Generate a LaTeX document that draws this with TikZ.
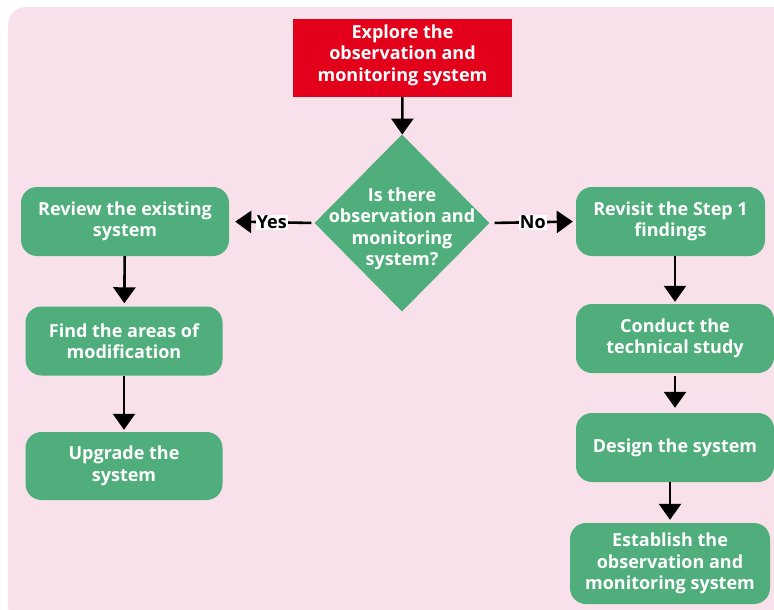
\documentclass[tikz,border=0pt]{standalone}
\usepackage{fontspec}
\setmainfont{Open Sans}
\usepackage{xcolor}
\usepackage{tikz}
\usetikzlibrary{
    calc,
    arrows.meta,
    shapes.geometric,
    positioning
}
\definecolor{bgpink}{HTML}{F8E1EB}
\definecolor{stepgreen}{HTML}{4FAE7B}
\definecolor{startred}{HTML}{E2001A}
\tikzset{
    boxtext/.style={text=white, font=\bfseries\fontsize{18}{21.5}\selectfont, align=center},
    stepbox/.style={boxtext, fill=stepgreen, rounded corners=16pt, inner sep=0pt},
    flow/.style={line width=2.6pt, -{Triangle[length=16pt,width=22pt]}},
    answer/.style={fill=white, text=black, inner sep=1pt, font=\bfseries\fontsize{18}{20}\selectfont}
}

\begin{document}
\begin{tikzpicture}[x=1pt,y=-1pt]
        \useasboundingbox (0,0) rectangle (774,610);
        \fill[bgpink, rounded corners=18pt] (8,7) rectangle (790,625);

        \node[fill=startred, minimum width=219pt, minimum height=78pt, inner sep=0pt] (explore) at (402.5,58) {};
        \node[boxtext] (exploretext) at (402.5,55) {Explore the\\observation and\\monitoring system};
        \node[fill=stepgreen, diamond, minimum width=175pt, minimum height=177pt, inner sep=0pt] (ask) at (402,223) {};
        \node[boxtext] (asktext) at (402,229) {Is there\\observation and\\monitoring\\system?};

        % Yes side
        \node[stepbox, minimum width=208pt, minimum height=69pt] (review)  at (125,221.5) {Review the existing\\system};
        \node[stepbox, minimum width=197pt, minimum height=69pt] (find)    at (124,341)   {Find the areas of\\modification};
        \node[stepbox, minimum width=197pt, minimum height=68pt] (upgrade) at (124,466)   {Upgrade the\\system};

        % No side
        \node[stepbox, minimum width=189pt, minimum height=69pt] (revisit)   at (670.5,221.5) {Revisit the Step 1\\findings};
        \node[stepbox, minimum width=198pt, minimum height=69pt] (conduct)   at (675,338.5)   {Conduct the\\technical study};
        \node[stepbox, minimum width=198pt, minimum height=69pt] (design)    at (675,447.5)   {Design the system};
        \node[stepbox, minimum width=200pt, minimum height=81pt] (establish) at (670,563.5)   {Establish the\\observation and\\monitoring system};

        \draw[flow] (explore) to (ask);

        \draw[flow, shorten <=3pt, shorten >=6pt] (ask.west) to node[answer]{Yes} (review.east);
        \draw[flow, shorten <=5pt, shorten >=3pt] (ask.east) to node[answer]{No} (revisit.west);

        \draw[flow, shorten >=3pt] (review) to (find);
        \draw[flow, shorten >=2pt] (find) to (upgrade);

        \draw[flow, shorten >=2pt] (conduct.north |- revisit.south) to (conduct.north);
        \draw[flow, shorten <=3pt, shorten >=5pt] (conduct) to (design);
        \draw[flow, shorten >=3pt] (design.south -| establish.north) to (establish.north);
    \end{tikzpicture}
\end{document}
